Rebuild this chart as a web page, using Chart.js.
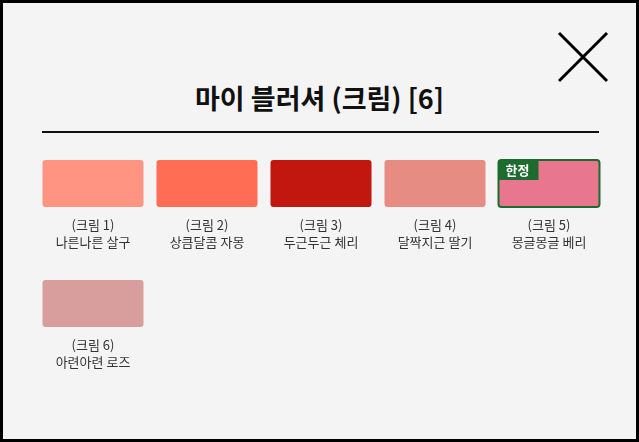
<!DOCTYPE html>
<html><head><meta charset="utf-8">
<script src="https://cdn.jsdelivr.net/npm/chart.js@4"></script>
<style>
html,body{margin:0;padding:0}
body{width:639px;height:442px;background:#f4f4f4;position:relative;overflow:hidden;font-family:"Noto Sans CJK KR",sans-serif}
#frame{position:absolute;left:0;top:0;width:633px;height:436px;border:3px solid #000}
#title{position:absolute;left:0;width:639px;top:78px;text-align:center;font-size:27px;font-weight:bold;color:#111}
#rule{position:absolute;left:42px;top:131px;width:557px;height:2px;background:#111}
#close{position:absolute;left:556px;top:30px}
canvas{position:absolute;left:0;top:0}
</style></head>
<body>
<div id="frame"></div>
<div id="title">마이 블러셔 (크림) [6]</div>
<div id="rule"></div>
<svg id="close" width="54" height="54"><path d="M3 3L51 51M51 3L3 51" stroke="#000" stroke-width="3"/></svg>
<canvas id="chart" width="639" height="442"></canvas>
<script>
var columns = ['c1', 'c2', 'c3', 'c4', 'c5'];
var row1 = [[0, 47], [0, 47], [0, 47], [0, 47], [0, 47]];
var row2 = [[120, 167], null, null, null, null];
var row1Colors = ['#ff9482', '#ff6d55', '#c2170f', '#e68c82', '#e8768f'];
var row2Colors = ['#d79e9d'];
var codes1 = ['(크림 1)', '(크림 2)', '(크림 3)', '(크림 4)', '(크림 5)'];
var names1 = ['나른나른 살구', '상큼달콤 자몽', '두근두근 체리', '달짝지근 딸기', '몽글몽글 베리'];
var codes2 = ['(크림 6)'];
var names2 = ['아련아련 로즈'];
var limited = [false, false, false, false, true];

var labelPlugin = {
  id: 'labels',
  afterDatasetsDraw: function(chart) {
    var ctx = chart.ctx;
    ctx.save();
    ctx.textAlign = 'center';
    ctx.textBaseline = 'middle';
    ctx.font = '13px "Noto Sans CJK KR"';
    ctx.fillStyle = '#333';
    [[codes1, names1], [codes2, names2]].forEach(function(rows, d) {
      chart.getDatasetMeta(d).data.forEach(function(bar, i) {
        if (!rows[0][i]) return;
        var bottom = Math.max(bar.y, bar.base);
        ctx.fillText(rows[0][i], bar.x, bottom + 18);
        ctx.fillText(rows[1][i], bar.x, bottom + 35);
      });
    });
    chart.getDatasetMeta(0).data.forEach(function(bar, i) {
      if (!limited[i]) return;
      var left = bar.x - bar.width / 2, top = Math.min(bar.y, bar.base);
      var h = Math.abs(bar.y - bar.base);
      ctx.strokeStyle = '#1d6b2f';
      ctx.lineWidth = 2;
      ctx.beginPath();
      ctx.roundRect(left, top, bar.width, h, 3);
      ctx.stroke();
      ctx.fillStyle = '#1d6b2f';
      ctx.fillRect(left, top, 40, 20);
      ctx.fillStyle = '#fff';
      ctx.font = 'bold 13px "Noto Sans CJK KR"';
      ctx.fillText('한정', left + 19, top + 10);
    });
    ctx.restore();
  }
};

new Chart(document.getElementById('chart'), {
  type: 'bar',
  data: {
    labels: columns,
    datasets: [
      { data: row1, backgroundColor: row1Colors, grouped: false, borderRadius: 3, borderSkipped: false },
      { data: row2, backgroundColor: row2Colors, grouped: false, borderRadius: 3, borderSkipped: false }
    ]
  },
  options: {
    responsive: false,
    animation: false,
    layout: { padding: { left: 36, right: 33, top: 160, bottom: 115 } },
    barPercentage: 1,
    categoryPercentage: 0.886,
    scales: {
      x: { display: false },
      y: { display: false, min: 0, max: 167, reverse: true }
    },
    plugins: { legend: { display: false }, tooltip: { enabled: false } }
  },
  plugins: [labelPlugin]
});
</script>
</body></html>
